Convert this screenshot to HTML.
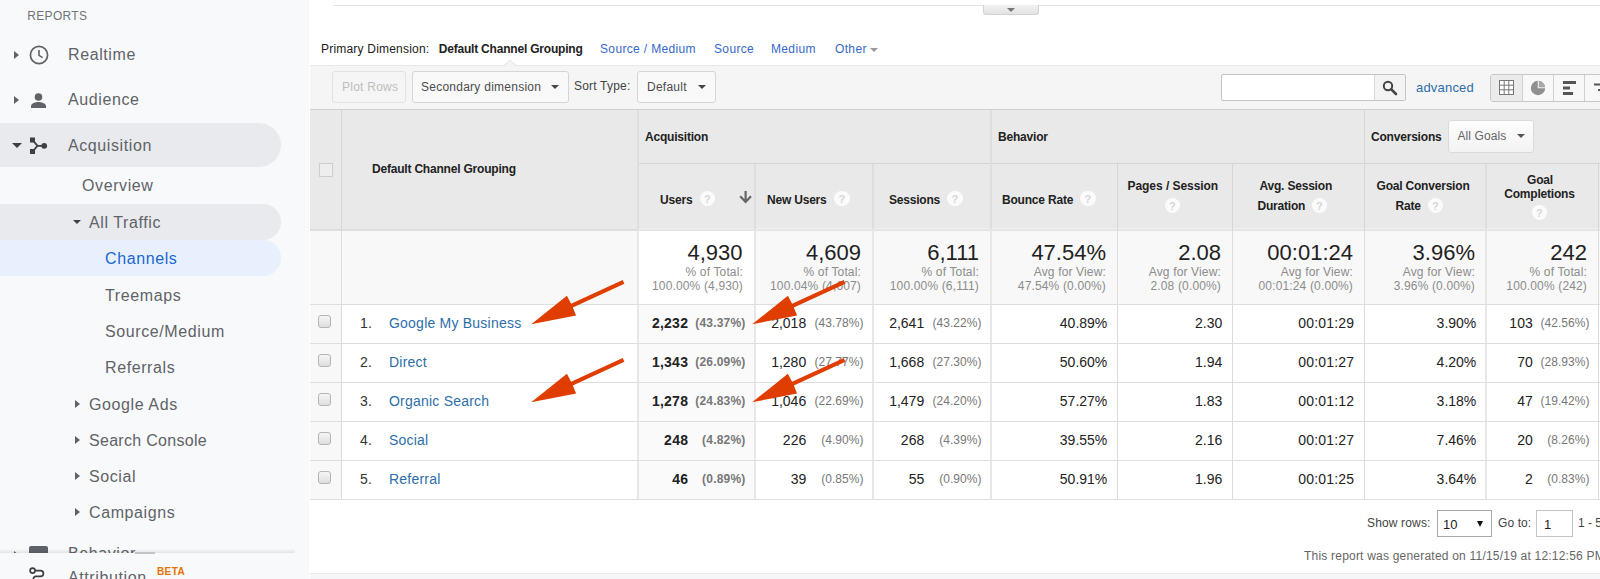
<!DOCTYPE html>
<html><head><meta charset="utf-8">
<style>
*{box-sizing:border-box;margin:0;padding:0}
html,body{width:1600px;height:579px;overflow:hidden;background:#fff;font-family:"Liberation Sans",sans-serif;}
body{position:relative}
.abs{position:absolute}
#side{position:absolute;left:0;top:0;width:309px;height:579px;background:#f8f9fa;overflow:hidden}
.nav{position:absolute;left:0;height:44px;width:281px;color:#5f6368;font-size:16px;letter-spacing:.6px;line-height:46px;white-space:nowrap}
.nav.sel{background:#e8eaed;border-radius:0 22px 22px 0}
.nav .t{position:absolute;left:68px;top:0}
.sub{position:absolute;left:0;height:36px;width:281px;color:#5f6368;font-size:16px;letter-spacing:.6px;line-height:38px;white-space:nowrap}
.sub.sel{background:#e8eaed;border-radius:0 18px 18px 0}
.sub.act{background:#e8f0fe;border-radius:0 18px 18px 0;color:#1967d2}
.sub .t{position:absolute;top:0}
.car-r{position:absolute;width:0;height:0;border-left:5px solid #5f6368;border-top:4.5px solid transparent;border-bottom:4.5px solid transparent}
.car-d{position:absolute;width:0;height:0;border-top:4px solid #3c4043;border-left:4px solid transparent;border-right:4px solid transparent}
#main{position:absolute;left:0;top:0;width:1600px;height:579px;overflow:hidden;font-size:12px;color:#222}
.lnk{color:#3568cc}
.btn{position:absolute;height:32px;border:1px solid #d5d5d5;border-radius:3px;background:#f9f9f9;font-size:12px;line-height:31.500px;color:#4c4c4c;white-space:nowrap;letter-spacing:.25px;overflow:hidden}
.hd{position:absolute;font-weight:bold;font-size:12px;color:#222;white-space:nowrap;letter-spacing:-.2px}
.vl{position:absolute;width:1px;background:#d9d9d9}
.hl{position:absolute;height:1px;background:#d9d9d9}
.q{position:absolute;width:15.500px;height:15.500px;border-radius:7.750px;background:#fbfbfb;color:#d6d6d6;font-size:11px;line-height:17px;text-align:center;font-weight:bold;letter-spacing:0;margin:-.5px 0 0 -.5px}
.big{position:absolute;font-size:22px;color:#222;text-align:right;white-space:nowrap;letter-spacing:0}
.sm{position:absolute;font-size:12px;color:#8c8c8c;text-align:right;white-space:nowrap;line-height:14px;letter-spacing:.15px}
.cell{position:absolute;font-size:14px;color:#222;white-space:nowrap;text-align:right;letter-spacing:0}
.cell.lnk{color:#2d6ea8;letter-spacing:.22px}
.cell.pct{font-size:12px;color:#777;letter-spacing:.05px}
.cb{position:absolute;width:13px;height:13px;border:1px solid #b4b4b4;border-radius:3px;background:linear-gradient(#f6f6f6,#dedede)}
</style></head><body>
<div id="side">
 <div class="abs" style="left:27.300px;top:8px;font-size:12px;letter-spacing:.32px;color:#707478;line-height:16px">REPORTS</div>
 <div class="nav" style="top:32px"><span class="t">Realtime</span></div>
 <div class="car-r" style="left:14px;top:51px"></div>
 <svg class="abs" style="left:28px;top:44px" width="22" height="22" viewBox="0 0 22 22"><circle cx="11" cy="11" r="8.6" fill="none" stroke="#5f6368" stroke-width="1.7"/><path d="M11 6v5.400l3.600 2.200" fill="none" stroke="#5f6368" stroke-width="1.6"/></svg>
 <div class="nav" style="top:77px"><span class="t">Audience</span></div>
 <div class="car-r" style="left:14px;top:96px"></div>
 <svg class="abs" style="left:28px;top:89px" width="22" height="22" viewBox="0 0 22 22"><circle cx="10.500" cy="8" r="3.800" fill="#5f6368"/><path d="M3 19v-2.200c0-2.600 5-3.900 7.500-3.900s7.500 1.300 7.500 3.900V19z" fill="#5f6368"/></svg>
 <div class="nav sel" style="top:123px"><span class="t">Acquisition</span></div>
 <div class="car-d" style="left:11.500px;top:143px;border-top-width:5px;border-left-width:5px;border-right-width:5px"></div>
 <svg class="abs" style="left:28px;top:135px" width="22" height="22" viewBox="0 0 22 22"><g fill="#3c4043"><rect x="2" y="2.500" width="5" height="5"/><rect x="2" y="14" width="5" height="5"/><circle cx="16.200" cy="10.800" r="2.900"/></g><path d="M5 5.500L9.500 10.800L5 16.200M9.500 10.800h6" fill="none" stroke="#3c4043" stroke-width="1.800"/></svg>
 <div class="sub" style="top:167px"><span class="t" style="left:82px">Overview</span></div>
 <div class="sub sel" style="top:204px"><span class="t" style="left:89px">All Traffic</span></div>
 <div class="car-d" style="left:73px;top:220px"></div>
 <div class="sub act" style="top:240px"><span class="t" style="left:105px">Channels</span></div>
 <div class="sub" style="top:277px"><span class="t" style="left:105px">Treemaps</span></div>
 <div class="sub" style="top:313px"><span class="t" style="left:105px">Source/Medium</span></div>
 <div class="sub" style="top:349px"><span class="t" style="left:105px">Referrals</span></div>
 <div class="sub" style="top:386px"><span class="t" style="left:89px">Google Ads</span></div>
 <div class="sub" style="top:422px"><span class="t" style="left:89px;letter-spacing:.3px">Search Console</span></div>
 <div class="sub" style="top:458px"><span class="t" style="left:89px">Social</span></div>
 <div class="sub" style="top:494px"><span class="t" style="left:89px">Campaigns</span></div>
 <div class="car-r" style="left:75px;top:399.5px"></div>
 <div class="car-r" style="left:75px;top:435.5px"></div>
 <div class="car-r" style="left:75px;top:471.5px"></div>
 <div class="car-r" style="left:75px;top:507.5px"></div>
 <div class="nav" style="top:531px"><span class="t">Behavior</span></div>
 <div class="car-r" style="left:14px;top:551px"></div>
 <div class="abs" style="left:29px;top:546px;width:19px;height:8px;background:#5f6368;border-radius:2px 2px 0 0"></div>
 <div class="abs" style="left:0;top:549px;width:295px;height:4px;background:linear-gradient(to bottom,rgba(0,0,0,0),rgba(0,0,0,.09))"></div>
 <div class="abs" style="left:0;top:553px;width:309px;height:26px;background:#f8f9fa"></div>
 <div class="abs" style="left:135px;top:552px;width:20px;height:2px;background:#c4c4c4"></div>
 <svg class="abs" style="left:26px;top:564px" width="24" height="16" viewBox="0 0 24 16"><circle cx="6.600" cy="6.600" r="2.500" fill="none" stroke="#3c4043" stroke-width="1.700"/><path d="M9.200 6.600h5.300a2.900 2.900 0 0 1 0 5.800H9.800a2.400 2.400 0 0 0 -2.400 2.400v2" fill="none" stroke="#3c4043" stroke-width="1.700"/></svg>
 <div class="nav" style="top:555px"><span class="t">Attribution</span></div>
 <div class="abs" style="left:157px;top:565.500px;font-size:10px;line-height:12px;color:#e37400;letter-spacing:.4px;font-weight:bold">BETA</div>
</div>
<div id="main">
 <!-- top line & tab -->
 <div class="hl" style="left:333px;top:5px;width:1267px;background:#e2e2e2"></div>
 <div class="abs" style="left:983px;top:5px;width:56px;height:10px;background:linear-gradient(#f1f1f1,#e3e3e3);border:1px solid #d2d2d2;border-top:none;border-radius:0 0 3px 3px"></div>
 <div class="car-d" style="left:1007.300px;top:7.500px;border-top-color:#777;border-top-width:4px"></div>
 <!-- primary dimension -->
 <div class="abs" style="left:321px;top:42px;font-size:12px;line-height:14px;color:#222;white-space:nowrap;letter-spacing:.2px">Primary Dimension:</div>
 <div class="abs" style="left:438.700px;top:42px;font-size:12px;line-height:14px;color:#222;font-weight:bold;white-space:nowrap;letter-spacing:-.2px">Default Channel Grouping</div>
 <div class="abs lnk" style="left:600px;top:42px;font-size:12px;line-height:14px;white-space:nowrap;letter-spacing:.35px">Source / Medium</div>
 <div class="abs lnk" style="left:714px;top:42px;font-size:12px;line-height:14px;white-space:nowrap;letter-spacing:.35px">Source</div>
 <div class="abs lnk" style="left:771px;top:42px;font-size:12px;line-height:14px;white-space:nowrap;letter-spacing:.35px">Medium</div>
 <div class="abs lnk" style="left:835px;top:42px;font-size:12px;line-height:14px;white-space:nowrap;letter-spacing:.35px">Other</div>
 <div class="car-d" style="left:870px;top:47.500px;border-top-color:#999;border-top-width:4px;border-left-width:4.500px;border-right-width:4.500px"></div>
 <!-- toolbar -->
 <div class="abs" style="left:310px;top:65px;width:1290px;height:44px;background:#f5f5f5;border-top:1px solid #e8e8e8"></div>
 <svg class="abs" style="left:500px;top:58px" width="20" height="9" viewBox="0 0 20 9"><path d="M3.200 7.800L10 2.200L16.800 7.800" fill="#f5f5f5" stroke="#e2e2e2" stroke-width="1"/><rect x="3" y="7.900" width="14" height="1.100" fill="#f5f5f5"/></svg>
 <div class="btn" style="left:332px;top:71px;width:74px;color:#bdbdbd;border-color:#e2e2e2;background:#f5f5f5;padding-left:9px">Plot Rows</div>
 <div class="btn" style="left:412px;top:71px;width:157px;padding-left:8px">Secondary dimension</div>
 <div class="car-d" style="left:551px;top:84.500px;border-top-color:#444;border-top-width:4.500px;border-left-width:4.500px;border-right-width:4.500px"></div>
 <div class="abs" style="left:574px;top:79px;font-size:12px;line-height:14px;color:#444;white-space:nowrap;letter-spacing:.2px">Sort Type:</div>
 <div class="btn" style="left:637px;top:71px;width:79px;padding-left:9px">Default</div>
 <div class="car-d" style="left:697.500px;top:84.500px;border-top-color:#444;border-top-width:4.500px;border-left-width:4.500px;border-right-width:4.500px"></div>
 <!-- search -->
 <div class="abs" style="left:1221px;top:74px;width:185px;height:27px;background:#fff;border:1px solid #c4c4c4;border-radius:2px"></div>
 <div class="abs" style="left:1374px;top:75px;width:31px;height:25px;background:#f3f3f3;border-left:1px solid #d8d8d8"></div>
 <svg class="abs" style="left:1381px;top:79px" width="18" height="18" viewBox="0 0 18 18"><circle cx="7" cy="7" r="4.2" fill="none" stroke="#444" stroke-width="2"/><path d="M10.3 10.3L15 15" stroke="#444" stroke-width="2.6" stroke-linecap="round"/></svg>
 <div class="abs" style="left:1416px;top:80px;font-size:13px;line-height:15px;color:#2d6ea8;white-space:nowrap;letter-spacing:.2px">advanced</div>
 <!-- view buttons -->
 <div class="abs" style="left:1490px;top:74px;width:120px;height:28px;background:#f8f8f8;border:1px solid #c8c8c8;border-radius:3px"></div>
 <div class="abs" style="left:1491px;top:75px;width:31px;height:26px;background:#ebebeb;border-radius:2px 0 0 2px"></div>
 <div class="vl" style="left:1522px;top:75px;height:26px;background:#d0d0d0"></div>
 <div class="vl" style="left:1553px;top:75px;height:26px;background:#d0d0d0"></div>
 <div class="vl" style="left:1584px;top:75px;height:26px;background:#d0d0d0"></div>
 <svg class="abs" style="left:1499px;top:80px" width="16" height="16" viewBox="0 0 16 16"><rect x="0.5" y="0.5" width="14" height="14" fill="#fff" stroke="#777"/><path d="M5.2 0.5v14M9.8 0.5v14M0.5 5.2h14M0.5 9.8h14" stroke="#777" fill="none"/></svg>
 <svg class="abs" style="left:1530px;top:80px" width="16" height="16" viewBox="0 0 16 16"><circle cx="8" cy="8" r="7.200" fill="#909090"/><path d="M8.500 0.800A7.200 7.200 0 0 1 15.200 7.500L8.500 7.500Z" fill="#a8a8a8"/><path d="M8.300 0.500v7.300h7.300" fill="none" stroke="#f4f4f4" stroke-width="1.100"/></svg>
 <svg class="abs" style="left:1562px;top:80px" width="16" height="16" viewBox="0 0 16 16"><path d="M1 2.5h13M1 8h7M1 13.5h10" stroke="#555" stroke-width="3" fill="none"/></svg>
 <svg class="abs" style="left:1592px;top:80px" width="16" height="16" viewBox="0 0 16 16"><path d="M2 4.5h13M6 10h9" stroke="#555" stroke-width="2" fill="none"/></svg>
 <!-- table header bg -->
 <div class="abs" style="left:310px;top:109px;width:1290px;height:120px;background:#e9e9e9;border-top:1px solid #cfcfcf"></div>
 <div class="abs" style="left:310px;top:229px;width:328px;height:2px;background:#dddddd"></div>
 <div class="abs" style="left:638px;top:228px;width:962px;height:1px;background:#efefef"></div>
 <div class="abs" style="left:638px;top:229px;width:962px;height:1px;background:#e8e8e8"></div>
 <div class="abs" style="left:638px;top:230px;width:962px;height:1px;background:#e3e3e3"></div>
 <!-- totals row bg -->
 <div class="abs" style="left:310px;top:231px;width:1290px;height:73px;background:#f8f8f8"></div>
 <div class="abs" style="left:638px;top:231px;width:117px;height:73px;background:#fff"></div>
 <!-- data row tints -->
 <div class="abs" style="left:310px;top:305px;width:31px;height:194px;background:#f8f8f8"></div>
 <div class="abs" style="left:638px;top:305px;width:117px;height:194px;background:#fafafa"></div>
 <!-- header text -->
 <div class="abs" style="left:319px;top:163px;width:14px;height:14px;background:#eee;border:1px solid #cdcdcd"></div>
 <div class="hd" style="left:372px;top:162px">Default Channel Grouping</div>
 <div class="hd" style="left:645px;top:129.500px">Acquisition</div>
 <div class="hd" style="left:998px;top:129.500px">Behavior</div>
 <div class="hd" style="left:1371px;top:129.500px">Conversions</div>
 <div class="abs" style="left:1447.500px;top:119.500px;width:86px;height:33.500px;background:linear-gradient(#fdfdfd,#f3f3f3);border:1px solid #dadada;border-radius:3px;font-size:12px;line-height:31px;color:#666;padding-left:9px;letter-spacing:.1px">All Goals</div>
 <div class="car-d" style="left:1516.500px;top:134px;border-top-color:#555;border-top-width:4.500px;border-left-width:4.500px;border-right-width:4.500px"></div>
 <div class="hl" style="left:638px;top:163px;width:962px;background:#d4d4d4"></div>
 <div class="hd" style="left:660px;top:192.750px">Users</div><div class="q" style="left:700px;top:191px">?</div>
 <svg class="abs" style="left:738px;top:190px" width="16" height="16" viewBox="0 0 16 16"><path d="M7.600 1v10.800M2.200 6.300L7.600 11.900l5.400-5.600" stroke="#666" stroke-width="2.200" fill="none"/></svg>
 <div class="hd" style="left:767px;top:192.750px">New Users</div><div class="q" style="left:834.500px;top:191px">?</div>
 <div class="hd" style="left:889px;top:192.750px">Sessions</div><div class="q" style="left:947.500px;top:191px">?</div>
 <div class="hd" style="left:1002px;top:192.750px">Bounce Rate</div><div class="q" style="left:1080.500px;top:191px">?</div>
 <div class="hd" style="left:1127.500px;top:179.250px;letter-spacing:-.05px">Pages / Session</div><div class="q" style="left:1165px;top:198px">?</div>
 <div class="hd" style="left:1259.500px;top:179.250px">Avg. Session</div><div class="hd" style="left:1257.500px;top:199.250px">Duration</div><div class="q" style="left:1312px;top:198px">?</div>
 <div class="hd" style="left:1376.500px;top:179.250px">Goal Conversion</div><div class="hd" style="left:1395.500px;top:199.250px">Rate</div><div class="q" style="left:1428px;top:198px">?</div>
 <div class="hd" style="left:1527px;top:173px">Goal</div><div class="hd" style="left:1504.250px;top:186.500px">Completions</div><div class="q" style="left:1532px;top:205px">?</div>
 <!-- totals -->
 <div class="big" style="right:857.500px;top:240px">4,930</div><div class="sm" style="right:857px;top:265px">% of Total:<br>100.00% (4,930)</div>
 <div class="big" style="right:739px;top:240px">4,609</div><div class="sm" style="right:739px;top:265px">% of Total:<br>100.04% (4,607)</div>
 <div class="big" style="right:621px;top:240px">6,111</div><div class="sm" style="right:621px;top:265px">% of Total:<br>100.00% (6,111)</div>
 <div class="big" style="right:494px;top:240px">47.54%</div><div class="sm" style="right:494px;top:265px">Avg for View:<br>47.54% (0.00%)</div>
 <div class="big" style="right:379px;top:240px">2.08</div><div class="sm" style="right:379px;top:265px">Avg for View:<br>2.08 (0.00%)</div>
 <div class="big" style="right:247px;top:240px">00:01:24</div><div class="sm" style="right:247px;top:265px">Avg for View:<br>00:01:24 (0.00%)</div>
 <div class="big" style="right:125px;top:240px">3.96%</div><div class="sm" style="right:125px;top:265px">Avg for View:<br>3.96% (0.00%)</div>
 <div class="big" style="right:13px;top:240px">242</div><div class="sm" style="right:13px;top:265px">% of Total:<br>100.00% (242)</div>
 <div class="cb" style="left:318px;top:315px"></div>
 <div class="cell" style="left:360px;top:315px;color:#333;letter-spacing:.3px">1.</div>
 <div class="cell lnk" style="left:389px;top:315px">Google My Business</div>
 <div class="cell" style="right:911.8px;top:315px;font-weight:bold;letter-spacing:.25px;">2,232</div>
 <div class="cell pct" style="right:854.5px;top:316px;font-weight:bold;letter-spacing:.2px;">(43.37%)</div>
 <div class="cell" style="right:793.8px;top:315px;">2,018</div>
 <div class="cell pct" style="right:736.5px;top:316px;">(43.78%)</div>
 <div class="cell" style="right:675.8px;top:315px;">2,641</div>
 <div class="cell pct" style="right:618.5px;top:316px;">(43.22%)</div>
 <div class="cell" style="right:67.3px;top:315px;">103</div>
 <div class="cell pct" style="right:10.5px;top:316px;">(42.56%)</div>
 <div class="cell" style="right:492.7px;top:315px;">40.89%</div>
 <div class="cell" style="right:377.7px;top:315px;">2.30</div>
 <div class="cell" style="right:245.7px;top:315px;letter-spacing:.2px;">00:01:29</div>
 <div class="cell" style="right:123.7px;top:315px;">3.90%</div>
 <div class="cb" style="left:318px;top:354px"></div>
 <div class="cell" style="left:360px;top:354px;color:#333;letter-spacing:.3px">2.</div>
 <div class="cell lnk" style="left:389px;top:354px">Direct</div>
 <div class="cell" style="right:911.8px;top:354px;font-weight:bold;letter-spacing:.25px;">1,343</div>
 <div class="cell pct" style="right:854.5px;top:355px;font-weight:bold;letter-spacing:.2px;">(26.09%)</div>
 <div class="cell" style="right:793.8px;top:354px;">1,280</div>
 <div class="cell pct" style="right:736.5px;top:355px;">(27.77%)</div>
 <div class="cell" style="right:675.8px;top:354px;">1,668</div>
 <div class="cell pct" style="right:618.5px;top:355px;">(27.30%)</div>
 <div class="cell" style="right:67.3px;top:354px;">70</div>
 <div class="cell pct" style="right:10.5px;top:355px;">(28.93%)</div>
 <div class="cell" style="right:492.7px;top:354px;">50.60%</div>
 <div class="cell" style="right:377.7px;top:354px;">1.94</div>
 <div class="cell" style="right:245.7px;top:354px;letter-spacing:.2px;">00:01:27</div>
 <div class="cell" style="right:123.7px;top:354px;">4.20%</div>
 <div class="cb" style="left:318px;top:393px"></div>
 <div class="cell" style="left:360px;top:393px;color:#333;letter-spacing:.3px">3.</div>
 <div class="cell lnk" style="left:389px;top:393px">Organic Search</div>
 <div class="cell" style="right:911.8px;top:393px;font-weight:bold;letter-spacing:.25px;">1,278</div>
 <div class="cell pct" style="right:854.5px;top:394px;font-weight:bold;letter-spacing:.2px;">(24.83%)</div>
 <div class="cell" style="right:793.8px;top:393px;">1,046</div>
 <div class="cell pct" style="right:736.5px;top:394px;">(22.69%)</div>
 <div class="cell" style="right:675.8px;top:393px;">1,479</div>
 <div class="cell pct" style="right:618.5px;top:394px;">(24.20%)</div>
 <div class="cell" style="right:67.3px;top:393px;">47</div>
 <div class="cell pct" style="right:10.5px;top:394px;">(19.42%)</div>
 <div class="cell" style="right:492.7px;top:393px;">57.27%</div>
 <div class="cell" style="right:377.7px;top:393px;">1.83</div>
 <div class="cell" style="right:245.7px;top:393px;letter-spacing:.2px;">00:01:12</div>
 <div class="cell" style="right:123.7px;top:393px;">3.18%</div>
 <div class="cb" style="left:318px;top:432px"></div>
 <div class="cell" style="left:360px;top:432px;color:#333;letter-spacing:.3px">4.</div>
 <div class="cell lnk" style="left:389px;top:432px">Social</div>
 <div class="cell" style="right:911.8px;top:432px;font-weight:bold;letter-spacing:.25px;">248</div>
 <div class="cell pct" style="right:854.5px;top:433px;font-weight:bold;letter-spacing:.2px;">(4.82%)</div>
 <div class="cell" style="right:793.8px;top:432px;">226</div>
 <div class="cell pct" style="right:736.5px;top:433px;">(4.90%)</div>
 <div class="cell" style="right:675.8px;top:432px;">268</div>
 <div class="cell pct" style="right:618.5px;top:433px;">(4.39%)</div>
 <div class="cell" style="right:67.3px;top:432px;">20</div>
 <div class="cell pct" style="right:10.5px;top:433px;">(8.26%)</div>
 <div class="cell" style="right:492.7px;top:432px;">39.55%</div>
 <div class="cell" style="right:377.7px;top:432px;">2.16</div>
 <div class="cell" style="right:245.7px;top:432px;letter-spacing:.2px;">00:01:27</div>
 <div class="cell" style="right:123.7px;top:432px;">7.46%</div>
 <div class="cb" style="left:318px;top:471px"></div>
 <div class="cell" style="left:360px;top:471px;color:#333;letter-spacing:.3px">5.</div>
 <div class="cell lnk" style="left:389px;top:471px">Referral</div>
 <div class="cell" style="right:911.8px;top:471px;font-weight:bold;letter-spacing:.25px;">46</div>
 <div class="cell pct" style="right:854.5px;top:472px;font-weight:bold;letter-spacing:.2px;">(0.89%)</div>
 <div class="cell" style="right:793.8px;top:471px;">39</div>
 <div class="cell pct" style="right:736.5px;top:472px;">(0.85%)</div>
 <div class="cell" style="right:675.8px;top:471px;">55</div>
 <div class="cell pct" style="right:618.5px;top:472px;">(0.90%)</div>
 <div class="cell" style="right:67.3px;top:471px;">2</div>
 <div class="cell pct" style="right:10.5px;top:472px;">(0.83%)</div>
 <div class="cell" style="right:492.7px;top:471px;">50.91%</div>
 <div class="cell" style="right:377.7px;top:471px;">1.96</div>
 <div class="cell" style="right:245.7px;top:471px;letter-spacing:.2px;">00:01:25</div>
 <div class="cell" style="right:123.7px;top:471px;">3.64%</div>
 <div class="vl" style="left:341px;top:110px;width:1px;height:119px;background:#d6d6d6"></div>
 <div class="vl" style="left:341px;top:229px;width:1px;height:271px;background:#dcdcdc"></div>
 <div class="vl" style="left:637px;top:110px;width:2px;height:119px;background:#dedede"></div>
 <div class="vl" style="left:637px;top:229px;width:2px;height:271px;background:#e7e7e7"></div>
 <div class="vl" style="left:754px;top:164px;width:2px;height:65px;background:#dedede"></div>
 <div class="vl" style="left:754px;top:229px;width:2px;height:271px;background:#e7e7e7"></div>
 <div class="vl" style="left:872px;top:164px;width:2px;height:65px;background:#dedede"></div>
 <div class="vl" style="left:872px;top:229px;width:2px;height:271px;background:#e7e7e7"></div>
 <div class="vl" style="left:1117px;top:164px;width:1px;height:65px;background:#d6d6d6"></div>
 <div class="vl" style="left:1117px;top:229px;width:1px;height:271px;background:#dcdcdc"></div>
 <div class="vl" style="left:1232px;top:164px;width:1px;height:65px;background:#d6d6d6"></div>
 <div class="vl" style="left:1232px;top:229px;width:1px;height:271px;background:#dcdcdc"></div>
 <div class="vl" style="left:1485px;top:164px;width:2px;height:65px;background:#dedede"></div>
 <div class="vl" style="left:1485px;top:229px;width:2px;height:271px;background:#e7e7e7"></div>
 <div class="vl" style="left:1598px;top:164px;width:1px;height:65px;background:#d6d6d6"></div>
 <div class="vl" style="left:1598px;top:229px;width:1px;height:271px;background:#dcdcdc"></div>
 <div class="vl" style="left:990px;top:110px;width:2px;height:119px;background:#dedede"></div>
 <div class="vl" style="left:990px;top:229px;width:2px;height:271px;background:#e7e7e7"></div>
 <div class="vl" style="left:1364px;top:110px;width:1px;height:119px;background:#d6d6d6"></div>
 <div class="vl" style="left:1364px;top:229px;width:1px;height:271px;background:#dcdcdc"></div>
 <div class="hl" style="left:310px;top:304px;width:1290px;background:#dedede"></div>
 <div class="hl" style="left:310px;top:343px;width:1290px;background:#dedede"></div>
 <div class="hl" style="left:310px;top:382px;width:1290px;background:#dedede"></div>
 <div class="hl" style="left:310px;top:421px;width:1290px;background:#dedede"></div>
 <div class="hl" style="left:310px;top:460px;width:1290px;background:#dedede"></div>
 <div class="hl" style="left:310px;top:499px;width:1290px;background:#dedede"></div>
 <svg class="abs" style="left:0;top:0" width="1600" height="579" viewBox="0 0 1600 579"><g fill="#e03e00"><path transform="translate(0 0)" d="M622.700 279.900 L624.400 283.700 L572.800 307.600 L576.100 315.500 L531.200 324.200 L566.900 295.800 L571.100 303.700 Z"/><path transform="translate(0 78)" d="M622.700 279.900 L624.400 283.700 L572.800 307.600 L576.100 315.500 L531.200 324.200 L566.900 295.800 L571.100 303.700 Z"/><path transform="translate(221 0)" d="M622.700 279.900 L624.400 283.700 L572.800 307.600 L576.100 315.500 L531.200 324.200 L566.900 295.800 L571.100 303.700 Z"/><path transform="translate(221 78)" d="M622.700 279.900 L624.400 283.700 L572.800 307.600 L576.100 315.500 L531.200 324.200 L566.900 295.800 L571.100 303.700 Z"/></g></svg>
 <!-- footer -->
 <div class="abs" style="left:1367px;top:516px;font-size:12px;line-height:14px;color:#444;white-space:nowrap;letter-spacing:.15px">Show rows:</div>
 <div class="abs" style="left:1437px;top:510px;width:55px;height:27px;background:#fff;border:1px solid #a9a9a9;font-size:13px;line-height:27px;padding-left:5px;color:#222">10</div>
 <div class="car-d" style="left:1477px;top:521px;border-top-color:#111;border-top-width:6px;border-left-width:3.500px;border-right-width:3.500px"></div>
 <div class="abs" style="left:1498px;top:516px;font-size:12px;line-height:14px;color:#444;white-space:nowrap;letter-spacing:.1px">Go to:</div>
 <div class="abs" style="left:1536px;top:510px;width:37px;height:27px;background:#fff;border:1px solid #c4c4c4;font-size:13px;line-height:27px;padding-left:7px;color:#222">1</div>
 <div class="abs" style="left:1578px;top:516px;font-size:12px;line-height:14px;color:#444;white-space:nowrap">1 - 5 of 5</div>
 <div class="abs" style="left:1304px;top:549px;font-size:12px;line-height:14px;color:#666;white-space:nowrap;letter-spacing:.21px">This report was generated on 11/15/19 at 12:12:56 PM</div>
 <div class="abs" style="left:310px;top:573px;width:1290px;height:6px;background:#f5f6f7;border-top:1px solid #ececec"></div>
</div>

</body></html>
